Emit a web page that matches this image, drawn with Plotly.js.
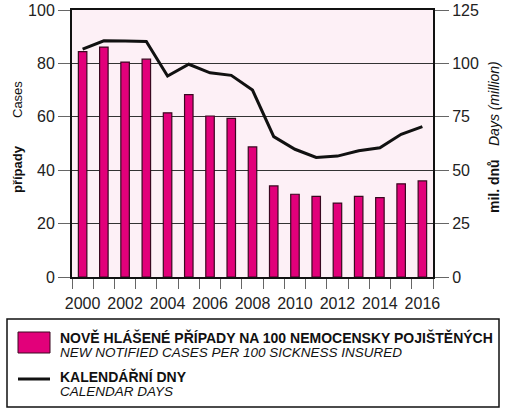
<!DOCTYPE html>
<html><head><meta charset="utf-8">
<script src="https://cdn.plot.ly/plotly-3.0.1.min.js"></script>
<style>html,body{margin:0;padding:0;background:#fff;}</style>
</head><body>
<div id="chart" style="width:511px;height:409px;"></div>
<script>
const years = [2000,2001,2002,2003,2004,2005,2006,2007,2008,2009,2010,2011,2012,2013,2014,2015,2016];
const cases = [84.4,86.1,80.5,81.6,61.5,68.3,60.3,59.4,48.7,34.1,31.0,30.2,27.7,30.2,29.7,34.9,36.0];
const days  = [106.7,110.6,110.5,110.3,94.1,99.6,95.6,94.4,87.5,65.7,59.8,56.0,56.6,59.1,60.5,66.8,70.4];
const labelYears = years.filter(y => y % 2 === 0);
const boundaries = years.map(y => y - 0.5).concat([years[years.length-1] + 0.5]);

const seriesNames = ["NOVĚ HLÁŠENÉ PŘÍPADY NA 100 NEMOCENSKY POJIŠTĚNÝCH", "NEW NOTIFIED CASES PER 100 SICKNESS INSURED",
                     "KALENDÁŘNÍ DNY", "CALENDAR DAYS"];

const FONT = "Liberation Sans, Arial, sans-serif";
const xr = [years[0]-0.5, years[years.length-1]+0.5];

const traces = [
  {type:'bar', x: years, y: cases, width: 0.4, xaxis:'x', yaxis:'y',
   marker:{color:'#e2007a', line:{color:'#3a0820', width:1.2}}, showlegend:false, hoverinfo:'x+y'},
  {type:'scatter', mode:'lines', x: years, y: days, xaxis:'x', yaxis:'y2',
   line:{color:'#111', width:3}, showlegend:false}
];

const W=511, H=409, L=72, R=433, T=10, B=277;
const px = v => (v - L)/(R - L);
const py = v => (B - v)/(B - T);

const layout = {
  width: W, height: H,
  margin: {l: L, r: W-R, t: T, b: H-B, pad: 0},
  paper_bgcolor: '#ffffff', plot_bgcolor: '#fdf0f6',
  font: {family: FONT, color: '#222', size: 16},
  bargap: 0,
  xaxis: {range: xr, tickvals: labelYears, ticktext: labelYears.map(String),
          ticks:'outside', ticklen: 11, tickwidth: 1, tickcolor:'rgba(0,0,0,0)',
          minor: {tickvals: boundaries, ticks:'outside', ticklen: 10, tickwidth: 1, tickcolor:'#666', showgrid:false},
          tickfont:{size:16, color:'#222'},
          showline:true, linecolor:'#111', linewidth:2, mirror:true, showgrid:false, zeroline:false},
  yaxis: {range:[0,100], dtick:20, tick0:0, ticks:'outside', ticklen:12, tickwidth:1, tickcolor:'#666',
          showgrid:true, gridcolor:'#333', gridwidth:1, zeroline:false, showline:true, linecolor:'#111', linewidth:2,
          tickfont:{size:16, color:'#222'}},
  yaxis2: {range:[0,125], dtick:25, tick0:0, overlaying:'y', side:'right', ticks:'outside', ticklen:14, tickwidth:1, tickcolor:'#666',
           showgrid:false, zeroline:false, showline:true, linecolor:'#111', linewidth:2, tickfont:{size:16, color:'#222'}},
  annotations: [
    {xref:'paper', yref:'paper', x: px(17), y: py(169), text:'<b>případy</b>', textangle:-90, showarrow:false,
     font:{size:13, color:'#111'}, xanchor:'center', yanchor:'middle'},
    {xref:'paper', yref:'paper', x: px(17), y: py(100), text:'Cases', textangle:-90, showarrow:false,
     font:{size:13, color:'#111'}, xanchor:'center', yanchor:'middle'},
    {xref:'paper', yref:'paper', x: px(494), y: py(186), text:'<b>mil. dnů</b>', textangle:-90, showarrow:false,
     font:{size:14, color:'#111'}, xanchor:'center', yanchor:'middle'},
    {xref:'paper', yref:'paper', x: px(494), y: py(104), text:'<i>Days (million)</i>', textangle:-90, showarrow:false,
     font:{size:14, color:'#111'}, xanchor:'center', yanchor:'middle'},
    {xref:'paper', yref:'paper', x: px(58), y: py(337), text:'<b>'+seriesNames[0]+'</b>', showarrow:false,
     font:{size:14, color:'#111'}, xanchor:'left', yanchor:'middle'},
    {xref:'paper', yref:'paper', x: px(58), y: py(352), text:'<i>'+seriesNames[1]+'</i>', showarrow:false,
     font:{size:13.5, color:'#111'}, xanchor:'left', yanchor:'middle'},
    {xref:'paper', yref:'paper', x: px(58), y: py(376), text:'<b>'+seriesNames[2]+'</b>', showarrow:false,
     font:{size:14, color:'#111'}, xanchor:'left', yanchor:'middle'},
    {xref:'paper', yref:'paper', x: px(58), y: py(391), text:'<i>'+seriesNames[3]+'</i>', showarrow:false,
     font:{size:13.5, color:'#111'}, xanchor:'left', yanchor:'middle'}
  ],
  shapes: [
    {type:'rect', xref:'paper', yref:'paper', x0: px(7), x1: px(499), y0: py(319), y1: py(407),
     line:{color:'#111', width:1.5}, fillcolor:'rgba(0,0,0,0)', layer:'above'},
    {type:'rect', xref:'paper', yref:'paper', x0: px(18), x1: px(50), y0: py(332), y1: py(353),
     line:{color:'#3a0820', width:1}, fillcolor:'#e2007a'},
    {type:'line', xref:'paper', yref:'paper', x0: px(18), x1: px(50), y0: py(379), y1: py(379),
     line:{color:'#111', width:3}}
  ]
};

Plotly.newPlot('chart', traces, layout, {displayModeBar:false, staticPlot:true});
</script>
</body></html>
